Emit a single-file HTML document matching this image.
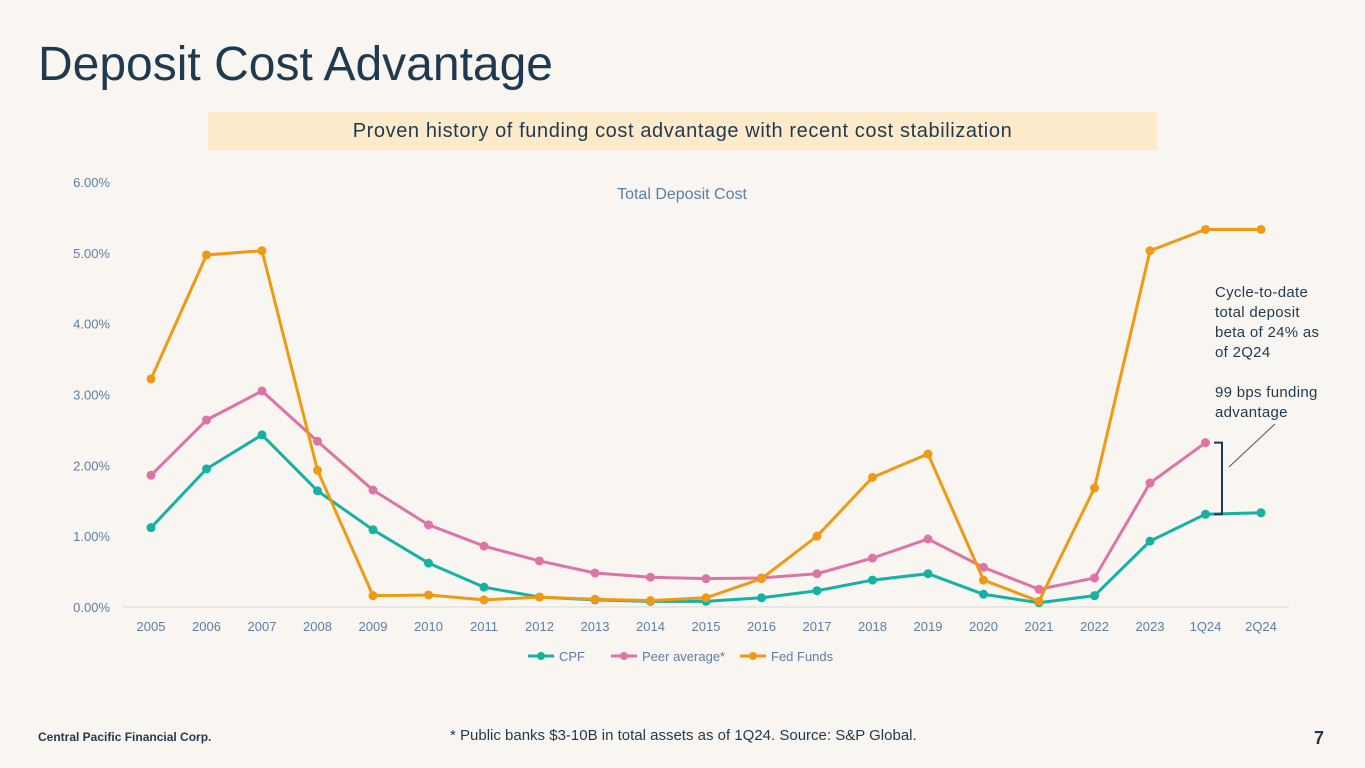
<!DOCTYPE html>
<html><head><meta charset="utf-8"><style>
body{margin:0;width:1365px;height:768px;background:#f9f5f1;font-family:"Liberation Sans",sans-serif;position:relative;overflow:hidden}
.t{position:absolute;white-space:nowrap}
</style></head><body>
<div class="t" style="left:38px;top:37px;font-size:48px;color:#1f3a4f">Deposit Cost Advantage</div>
<div style="position:absolute;left:208px;top:112px;width:949px;height:38px;background:#fdeacb;text-align:center;line-height:38px;font-size:20px;letter-spacing:0.6px;color:#1f3a4f">Proven history of funding cost advantage with recent cost stabilization</div>
<svg id="chart" width="1365" height="768" style="position:absolute;left:0;top:0"></svg>
<div class="t" style="left:1215px;top:283px;font-size:15px;line-height:20px;letter-spacing:0.3px;color:#1f3a4f">Cycle-to-date<br>total deposit<br>beta of 24% as<br>of 2Q24<br><br>99 bps funding<br>advantage</div>
<div class="t" style="left:38px;top:730px;font-size:12px;font-weight:bold;color:#1f3a4f">Central Pacific Financial Corp.</div>
<div class="t" style="left:450px;top:727px;font-size:15px;color:#1f3a4f">* Public banks $3-10B in total assets as of 1Q24. Source: S&amp;P Global.</div>
<div class="t" style="left:1314px;top:728px;font-size:18px;font-weight:bold;color:#1f3a4f">7</div>
<script>
const categories=["2005","2006","2007","2008","2009","2010","2011","2012","2013","2014","2015","2016","2017","2018","2019","2020","2021","2022","2023","1Q24","2Q24"];
const cpf=[1.12,1.95,2.43,1.64,1.09,0.62,0.28,0.14,0.10,0.08,0.08,0.13,0.23,0.38,0.47,0.18,0.06,0.16,0.93,1.31,1.33];
const peer=[1.86,2.64,3.05,2.34,1.65,1.16,0.86,0.65,0.48,0.42,0.40,0.41,0.47,0.69,0.96,0.56,0.25,0.41,1.75,2.32,null];
const fed=[3.22,4.97,5.03,1.93,0.16,0.17,0.10,0.14,0.11,0.09,0.13,0.40,1.00,1.83,2.16,0.38,0.08,1.68,5.03,5.33,5.33];
const yTicks=[0,1,2,3,4,5,6];
const NS="http://www.w3.org/2000/svg",svg=document.getElementById('chart');
const x=i=>151+i*55.5, y=v=>607-v*70.83;
function mk(t,a,txt){const e=document.createElementNS(NS,t);for(const k in a)e.setAttribute(k,a[k]);if(txt!=null)e.textContent=txt;svg.appendChild(e);return e;}
let e=mk('line',{x1:123,x2:1289,y1:y(0),y2:y(0),stroke:'#d9d9d9'});

yTicks.forEach(v=>{const t=mk('text',{x:110,y:y(v)+5,'text-anchor':'end','font-size':13,fill:'#5b7fa6'},v.toFixed(2)+'%');
});
categories.forEach((c,i)=>{const t=mk('text',{x:x(i),y:631,'text-anchor':'middle','font-size':13,fill:'#5b7fa6'},c);
});
e=mk('text',{x:682,y:199,'text-anchor':'middle','font-size':16,fill:'#5b7fa6'},'Total Deposit Cost');

const series=[[cpf,'#14b2a2','cpf'],[peer,'#de74a6','peer-average'],[fed,'#ee9a14','fed-funds']];
series.forEach(([d,col,n])=>{let p='';d.forEach((v,i)=>{if(v!=null)p+=(p?'L':'M')+x(i)+' '+y(v);});
const l=mk('path',{d:p,fill:'none',stroke:col,'stroke-width':3});

d.forEach((v,i)=>{if(v==null)return;const c=mk('circle',{cx:x(i),cy:y(v),r:4.5,fill:col});
});});
const leg=[['CPF','#14b2a2',528],['Peer average*','#de74a6',611],['Fed Funds','#ee9a14',740]];
leg.forEach(([t,c,lx])=>{const g=mk('line',{x1:lx,x2:lx+26,y1:656,y2:656,stroke:c,'stroke-width':3});

mk('circle',{cx:lx+13,cy:656,r:4,fill:c});
const tx=mk('text',{x:lx+31,y:661,'font-size':13,fill:'#5b7fa6'},t);
});
e=mk('path',{d:`M1214 ${y(peer[19])} H1222 V${y(cpf[19])} H1214`,fill:'none',stroke:'#1f3a4f','stroke-width':2});

e=mk('line',{x1:1229,y1:467,x2:1275,y2:424,stroke:'#555','stroke-width':1});

</script>
</body></html>
